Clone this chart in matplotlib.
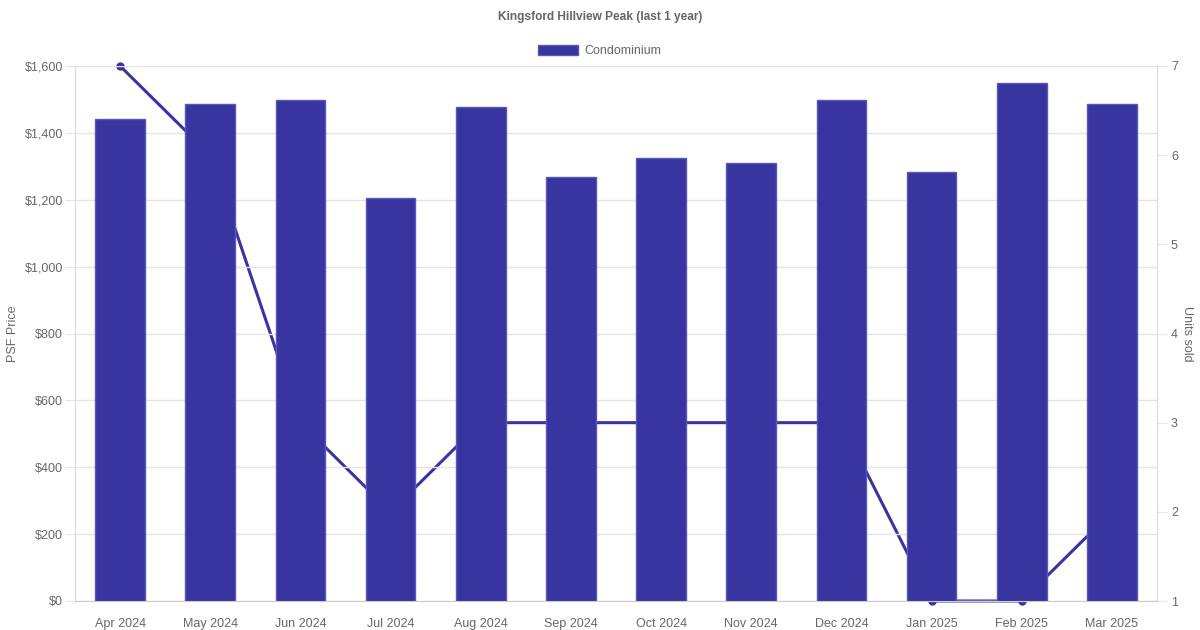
import matplotlib.pyplot as plt
import matplotlib.patches as mpatches

months = ['Apr 2024', 'May 2024', 'Jun 2024', 'Jul 2024', 'Aug 2024', 'Sep 2024',
          'Oct 2024', 'Nov 2024', 'Dec 2024', 'Jan 2025', 'Feb 2025', 'Mar 2025']
psf_price = [1440, 1485, 1497, 1206, 1476, 1269, 1326, 1311, 1497, 1284, 1548, 1485]
units_sold = [7, 6, 3, 2, 3, 3, 3, 3, 3, 1, 1, 2]
psf_ticks = [0, 200, 400, 600, 800, 1000, 1200, 1400, 1600]
unit_ticks = [1, 2, 3, 4, 5, 6, 7]

bar_color = '#3935a0'
edge_color = '#5a56b8'
text_color = '#666666'
grid_color = '#e5e5e5'

plt.rcParams['font.family'] = ['Liberation Sans', 'DejaVu Sans']

fig = plt.figure(figsize=(12, 6.3), dpi=100)
ax = fig.add_axes([75 / 1200, 29 / 630, 1082 / 1200, 535 / 630])
ax2 = ax.twinx()
# line sits behind the bars
ax2.set_zorder(ax.get_zorder() - 1)
ax.patch.set_visible(False)

x = list(range(len(months)))
ax.bar(x, psf_price, width=0.55, color=bar_color, edgecolor=edge_color, linewidth=1, zorder=3)
ax2.plot(x, units_sold, color=bar_color, linewidth=2.2, marker='o', markersize=5,
         clip_on=False, zorder=2)

ax.set_xlim(-0.5, len(months) - 0.5)
ax.set_ylim(0, 1600)
ax2.set_ylim(1, 7)

ax.set_xticks(x)
ax.set_xticklabels(months)
ax.set_yticks(psf_ticks)
ax.set_yticklabels([f'${v:,}' for v in psf_ticks])
ax2.set_yticks(unit_ticks)

ax.grid(axis='y', color=grid_color, linewidth=1, zorder=0)
ax.set_axisbelow(True)

for a in (ax, ax2):
    for s in a.spines.values():
        s.set_color('#dddddd')
    a.spines['top'].set_visible(False)
ax.spines['bottom'].set_color('#cccccc')

ax.tick_params(axis='x', length=0, pad=12, labelsize=9, labelcolor=text_color)
ax.tick_params(axis='y', length=7, color=grid_color, pad=1.5, labelsize=9, labelcolor=text_color)
ax2.tick_params(axis='y', length=7, color=grid_color, pad=3, labelsize=9, labelcolor=text_color)

ax.set_ylabel('PSF Price', fontsize=9, color=text_color, labelpad=4)
ax2.set_ylabel('Units sold', fontsize=9, color=text_color, rotation=270, labelpad=11)

fig.text(0.5, 1 - 17 / 630, 'Kingsford Hillview Peak (last 1 year)', ha='center', va='center',
         fontsize=8.6, fontweight='bold', color=text_color)

condo_patch = mpatches.Patch(facecolor=bar_color, edgecolor=edge_color, label='Condominium')
fig.legend(handles=[condo_patch], loc='center', bbox_to_anchor=(0.5, 1 - 51 / 630), frameon=False,
           fontsize=9, labelcolor=text_color, handlelength=3.2, handleheight=0.9, handletextpad=0.5)

fig.savefig('out.png', dpi=100)
